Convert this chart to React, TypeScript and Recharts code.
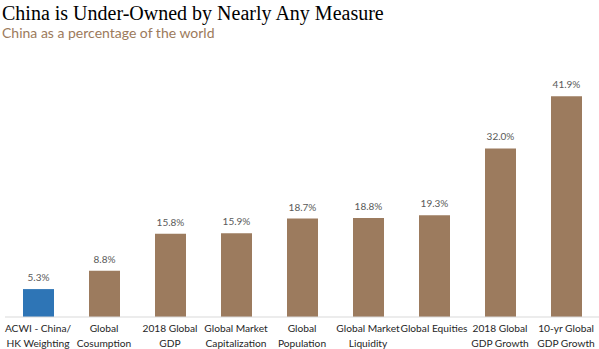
import React from "react";
import { BarChart, Bar, XAxis, YAxis, LabelList, Cell } from "recharts";

const categories = [
  "ACWI - China/\nHK Weighting",
  "Global\nCosumption",
  "2018 Global\nGDP",
  "Global Market\nCapitalization",
  "Global\nPopulation",
  "Global Market\nLiquidity",
  "Global Equities",
  "2018 Global\nGDP Growth",
  "10-yr Global\nGDP Growth",
];
const values = [5.3, 8.8, 15.8, 15.9, 18.7, 18.8, 19.3, 32.0, 41.9];
const highlight = [true, false, false, false, false, false, false, false, false];

const data = categories.map((c, i) => ({ name: c, value: values[i], hi: highlight[i] }));

const Tick = (props: any) => {
  const { x, y, payload } = props;
  const lines = String(payload.value).split("\n");
  return (
    <g transform={`translate(${x},${y})`}>
      {lines.map((l, i) => (
        <text key={i} x={0} y={7 + i * 15} textAnchor="middle" fontSize={10.2} fill="#262626" fontFamily="Lato, sans-serif">
          {l}
        </text>
      ))}
    </g>
  );
};

export default function App() {
  return (
    <div style={{ position: "absolute", left: 0, top: 0, width: 599, height: 349, background: "#fff" }}>
      <div style={{ position: "absolute", left: 2, top: 1, fontFamily: "'Liberation Serif', serif", fontSize: 20, color: "#000", whiteSpace: "nowrap", lineHeight: "24px" }}>
        China is Under-Owned by Nearly Any Measure
      </div>
      <div style={{ position: "absolute", left: 2, top: 23, fontFamily: "Lato, sans-serif", fontSize: 14, color: "#9c7a5b", whiteSpace: "nowrap", lineHeight: "20px" }}>
        China as a percentage of the world
      </div>
      <BarChart width={599} height={349} data={data} margin={{ top: 80, right: 0, left: 5, bottom: 0 }}>
        <YAxis hide domain={[0, 45]} />
        <XAxis dataKey="name" interval={0} tick={<Tick />} tickLine={false} axisLine={{ stroke: "#d9d9d9" }} height={32} />
        <Bar dataKey="value" barSize={31} isAnimationActive={false}>
          {data.map((d, i) => (
            <Cell key={i} fill={d.hi ? "#2e75b6" : "#9c7b5e"} />
          ))}
          <LabelList dataKey="value" position="top" offset={8} formatter={(v: any) => `${Number(v).toFixed(1)}%`} fontSize={10} fill="#595959" fontFamily="Lato, sans-serif" />
        </Bar>
      </BarChart>
    </div>
  );
}
